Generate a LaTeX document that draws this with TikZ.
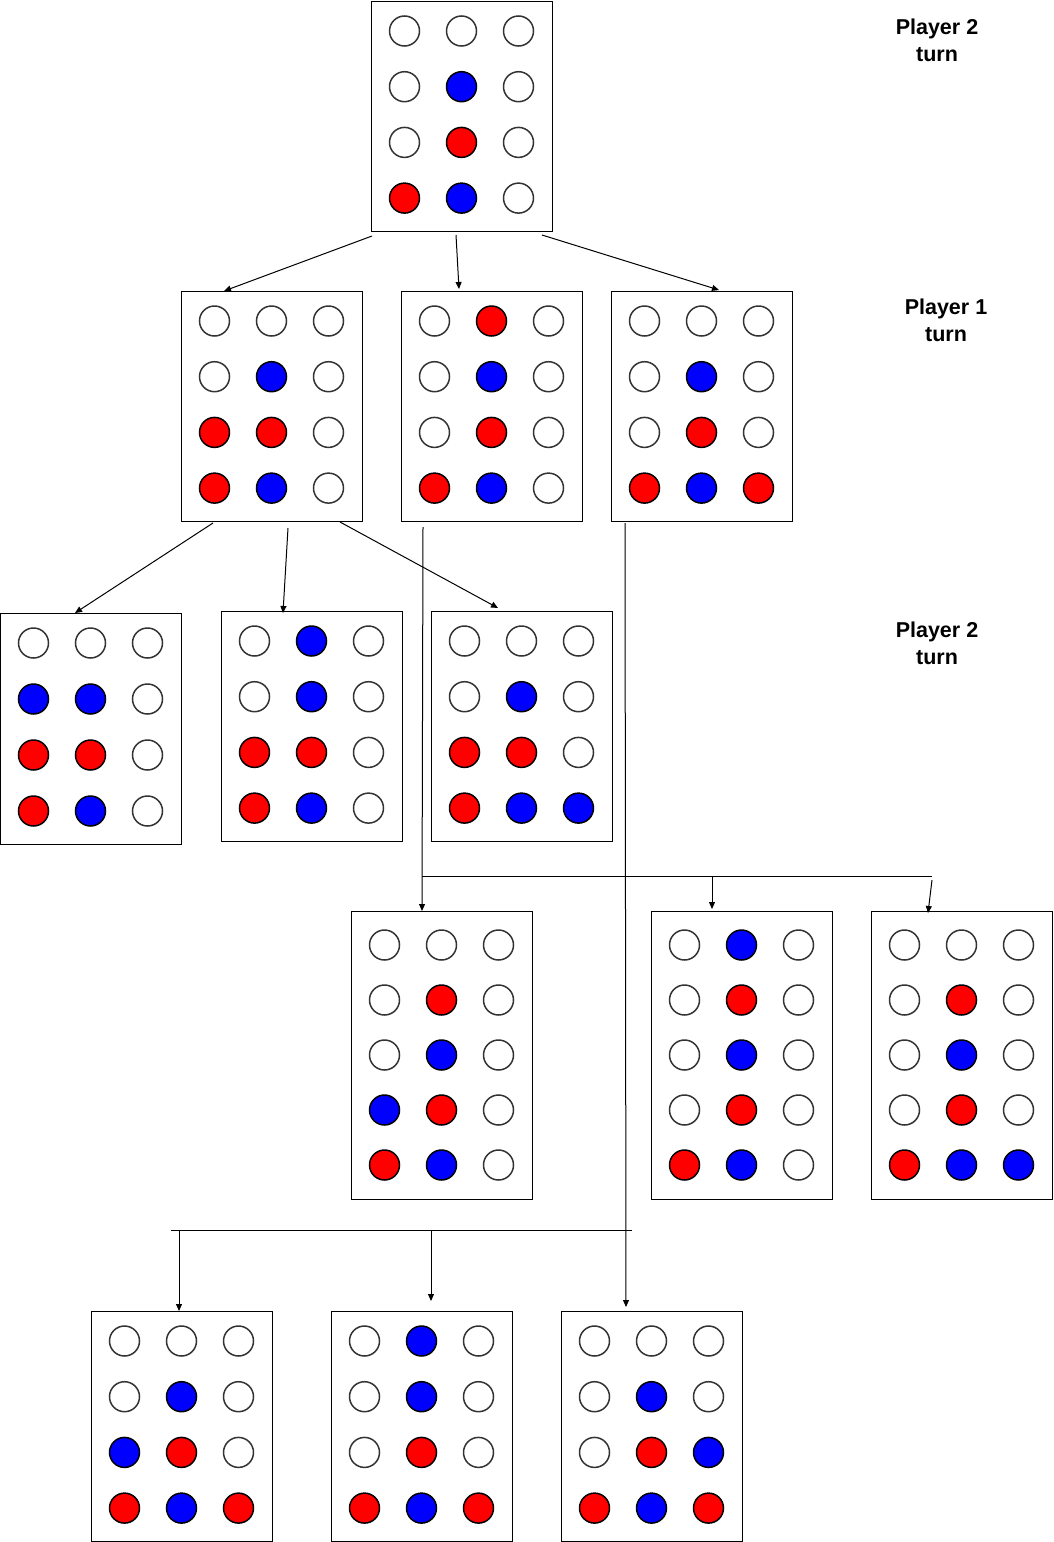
\documentclass[tikz,border=0pt]{standalone}
\usepackage{fontspec}
\setmainfont{Liberation Sans}
\usetikzlibrary{arrows.meta}
\tikzset{
  board/.style={draw=black, line width=1pt, fill=white, minimum width=181pt, inner sep=0pt, anchor=north west},
  cW/.style={draw=black!80, line width=1.5pt, fill=white},
  cR/.style={draw=black, line width=1.5pt, fill=red},
  cB/.style={draw=black, line width=1.5pt, fill=blue},
  conn/.style={draw=black, line width=1pt},
  arr/.style={conn, -{Triangle[length=7pt,width=6pt]}},
  lbl/.style={font=\bfseries\fontsize{21.5pt}{27pt}\selectfont, align=center},
}
% #1 name, #2 left, #3 top, #4 height, #5 first row offset, #6 row spacing, #7 colours
\newcommand\myboard[7]{%
  \node[board, minimum height=#4pt] (#1) at (#2,#3) {};
  \foreach \c [count=\i from 0] in {#7} {
    \pgfmathtruncatemacro\col{mod(\i,3)}
    \pgfmathtruncatemacro\row{div(\i,3)}
    \path[c\c] (#2+33.5+57*\col, #3+#5+#6*\row) circle[radius=15pt];
  }
}
\begin{document}
\begin{tikzpicture}[x=1pt,y=-1pt]
\useasboundingbox (0,0) rectangle (1054,1542);
% level 0
\myboard{A}{371}{1}{230}{30}{55.7}{W,W,W, W,B,W, W,R,W, R,B,W}
% level 1
\myboard{B1}{181}{291}{230}{30}{55.7}{W,W,W, W,B,W, R,R,W, R,B,W}
\myboard{B2}{401}{291}{230}{30}{55.7}{W,R,W, W,B,W, W,R,W, R,B,W}
\myboard{B3}{611}{291}{230}{30}{55.7}{W,W,W, W,B,W, W,R,W, R,B,R}
% level 2
\myboard{C1}{0}{613}{231}{30}{56}{W,W,W, B,B,W, R,R,W, R,B,W}
\myboard{C2}{221}{611}{230}{30}{55.7}{W,B,W, W,B,W, R,R,W, R,B,W}
\myboard{C3}{431}{611}{230}{30}{55.7}{W,W,W, W,B,W, R,R,W, R,B,B}
% level 3
\myboard{D1}{351}{911}{288}{34}{55}{W,W,W, W,R,W, W,B,W, B,R,W, R,B,W}
\myboard{D2}{651}{911}{288}{34}{55}{W,B,W, W,R,W, W,B,W, W,R,W, R,B,W}
\myboard{D3}{871}{911}{288}{34}{55}{W,W,W, W,R,W, W,B,W, W,R,W, R,B,B}
% level 4
\myboard{E1}{91}{1311}{230}{30}{55.7}{W,W,W, W,B,W, B,R,W, R,B,R}
\myboard{E2}{331}{1311}{230}{30}{55.7}{W,B,W, W,B,W, W,R,W, R,B,R}
\myboard{E3}{561}{1311}{230}{30}{55.7}{W,W,W, W,B,W, W,R,B, R,B,R}
% labels
\node[lbl] (t1) at (937,40) {Player 2\\turn};
\node[lbl] (t2) at (946,320) {Player 1\\turn};
\node[lbl] (t3) at (937,643) {Player 2\\turn};
% connectors level 0 -> 1
\draw[arr] ([shift={(1,4)}]A.south west) -- ([shift={(43,0)}]B1.north west);
\draw[arr] ([shift={(85,3)}]A.south west) -- ([shift={(58,-2)}]B2.north west);
\draw[arr] ([shift={(-11,3)}]A.south east) -- ([shift={(108,-1)}]B3.north west);
% level 1 -> 2
\draw[arr] ([shift={(32,1)}]B1.south west) -- ([shift={(75,0)}]C1.north west);
\draw[arr] ([shift={(107,6)}]B1.south west) -- ([shift={(62,2)}]C2.north west);
\draw[arr] ([shift={(159,0)}]B1.south west) -- ([shift={(67,-3)}]C3.north west);
% B2 -> D boards
\draw[arr] ([shift={(22,5)}]B2.south west) -- ([shift={(71,0)}]D1.north west);
\coordinate (j1) at (422,876);
\coordinate (j1e) at (932,876);
\draw[conn] (j1) -- (j1e);
\coordinate (d2t) at ([shift={(61,-2)}]D2.north west);
\draw[arr] (j1 -| d2t) -- (d2t);
\draw[arr] ([shift={(0,4)}]j1e) -- ([shift={(57,2)}]D3.north west);
% B3 -> E boards
\draw[arr] ([shift={(14,1)}]B3.south west) -- ([shift={(65,-4)}]E3.north west);
\coordinate (j2) at (171,1230);
\coordinate (j2e) at (632,1230);
\draw[conn] (j2) -- (j2e);
\coordinate (e1t) at ([shift={(88,0)}]E1.north west);
\draw[arr] (j2 -| e1t) -- (e1t);
\coordinate (e2t) at ([shift={(100,-10)}]E2.north west);
\draw[arr] (j2 -| e2t) -- (e2t);
\end{tikzpicture}
\end{document}
